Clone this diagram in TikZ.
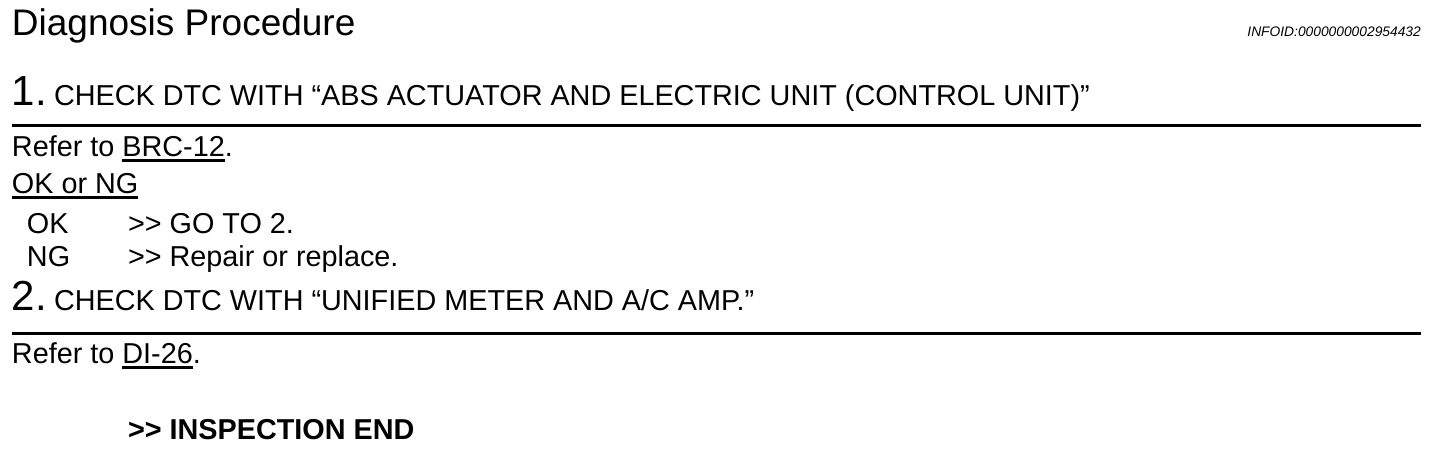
\documentclass[tikz,border=0pt]{standalone}
\usepackage{fontspec}
\setmainfont{Liberation Sans}
\newcommand\myul[1]{\setbox0\hbox{#1}\rlap{\rule[-5.5pt]{\wd0}{2.4pt}}\box0}
\newcommand\gtgt{>\kern0pt>}
\begin{document}
\begin{tikzpicture}[x=1pt,y=-1pt,
  txt/.style={anchor=base west,inner sep=0pt,outer sep=0pt,font=\fontsize{28.8}{34}\selectfont},
  txtr/.style={txt,anchor=base east},
  bold/.style={txt,font=\fontsize{28.8}{34}\selectfont\bfseries},
  num/.style={txt,font=\fontsize{42}{48}\selectfont},
  title/.style={txt,font=\fontsize{37}{44}\selectfont},
  info/.style={anchor=base east,inner sep=0pt,font=\fontsize{13.8}{16}\selectfont\itshape},
  rulel/.style={line width=3pt}]
\useasboundingbox (0,0) rectangle (1456,452);
\node[title] (title) at (12,36) {Diagnosis Procedure};
\node[info] (info) at (1421,37) {INFOID:0000000002954432};
\node[num] (n1) at (12,105) {1.};
\node[txt] (h1) at (54,105) {CHECK DTC WITH “ABS ACTUATOR AND ELECTRIC UNIT (CONTROL UNIT)”};
\coordinate (r1a) at (12,125.5);
\coordinate (r1b) at (1421,125.5);
\draw[rulel] (r1a) -- (r1b);
\node[txt] (ref1) at (12,156) {Refer to \myul{BRC-12}.};
\node[txt] (okng) at (12,193) {\myul{OK or NG}};
\node[txt] (ok) at (27,233) {OK};
\node[txt] (okg) at (128,233) {\gtgt{} GO TO 2.};
\node[txt] (ng) at (27,266) {NG};
\node[txt] (ngr) at (128,266) {\gtgt{} Repair or replace.};
\node[num] (n2) at (12,310) {2.};
\node[txt] (h2) at (54,310) {CHECK DTC WITH “UNIFIED METER AND A/C AMP.”};
\coordinate (r2a) at (12,333);
\coordinate (r2b) at (1421,333);
\draw[rulel] (r2a) -- (r2b);
\node[txt] (ref2) at (12,363) {Refer to \myul{DI-26}.};
\node[bold] (end) at (128,439) {\gtgt{} INSPECTION END};
\end{tikzpicture}
\end{document}
